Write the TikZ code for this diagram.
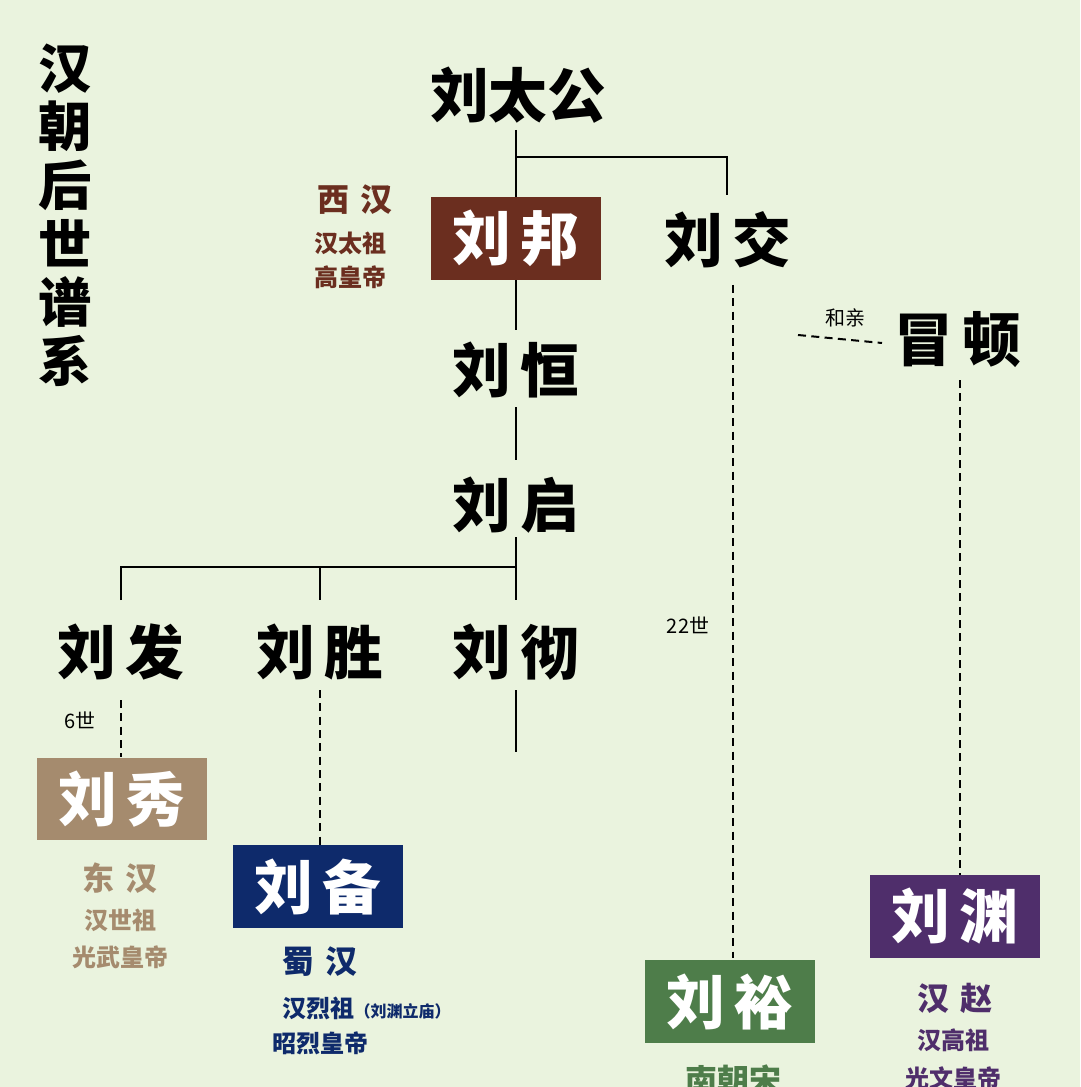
\documentclass[tikz,border=0pt]{standalone}
\usepackage{fontspec}
\newfontfamily\cjk{Noto Sans CJK SC}[BoldFont={Noto Sans CJK SC Black}]
\definecolor{bg}{HTML}{EAF3DE}
\definecolor{cbrown}{HTML}{6B2E1F}
\definecolor{ctan}{HTML}{A58B6E}
\definecolor{cnavy}{HTML}{0E2A6B}
\definecolor{cgreen}{HTML}{4E7D4A}
\definecolor{cpurp}{HTML}{4F2E6B}
\begin{document}
\begin{tikzpicture}[x=0.75pt,y=-0.75pt,
  nm/.style={font=\cjk\bfseries\fontsize{44}{48}\selectfont},
  bx/.style={minimum width=127.5pt,minimum height=62pt,inner sep=0pt,text=white,font=\cjk\bfseries\fontsize{44}{48}\selectfont},
  sub/.style={font=\cjk\bfseries\fontsize{18}{20}\selectfont},
  subb/.style={font=\cjk\bfseries\fontsize{24}{26}\selectfont},
  ln/.style={line width=1.5pt},
  dl/.style={line width=1.5pt,dash pattern=on 6pt off 4pt}]
\fill[bg] (0,0) rectangle (1080,1087);
\clip (0,0) rectangle (1080,1087);
\node[font=\cjk\bfseries\fontsize{40}{44}\selectfont,align=center] (title) at (65,215) {汉\\朝\\后\\世\\谱\\系};
\node[nm] (tg) at (518,95) {刘太公};
\node[bx,fill=cbrown] (bang) at (516,238.5) {刘\,邦};
\node[nm] (jiao) at (728,240) {刘\,交};
\node[nm] (heng) at (516,370) {刘\,恒};
\node[nm] (qi) at (516,505) {刘\,启};
\node[nm] (fa) at (121,652) {刘\,发};
\node[nm] (sheng) at (320,652) {刘\,胜};
\node[nm] (che) at (516,652) {刘\,彻};
\node[nm] (modu) at (958,340) {冒\,顿};
\node[bx,fill=ctan] (xiu) at (122,799) {刘\,秀};
\node[bx,fill=cnavy] (bei) at (318,886.5) {刘\,备};
\node[bx,fill=cgreen] (yu) at (730,1001.5) {刘\,裕};
\node[bx,fill=cpurp] (yuan) at (955,916.5) {刘\,渊};
% labels
\node[subb,text=cbrown] (l1) at (355,200) {西\,\,汉};
\node[sub,text=cbrown] (l2) at (350,243) {汉太祖};
\node[sub,text=cbrown] (l3) at (350,277) {高皇帝};
\node[subb,text=ctan] (l4) at (120,878) {东\,\,汉};
\node[sub,text=ctan] (l5) at (120,920) {汉世祖};
\node[sub,text=ctan] (l6) at (120,957) {光武皇帝};
\node[subb,text=cnavy] (l7) at (320,962) {蜀\,\,汉};
\node[sub,text=cnavy,anchor=west] (l8) at (278,1008) {汉烈祖\fontsize{12}{14}\selectfont（刘渊立庙）};
\node[sub,text=cnavy] (l9) at (320,1043) {昭烈皇帝};
\node[subb,text=cgreen] (l10) at (733,1080) {南朝宋};
\node[subb,text=cpurp] (l11) at (955,998) {汉\,\,赵};
\node[sub,text=cpurp] (l12) at (953,1040) {汉高祖};
\node[sub,text=cpurp] (l13) at (953,1078) {光文皇帝};
\node[font=\cjk\fontsize{15}{17}\selectfont] (g22) at (688,625) {22世};
\node[font=\cjk\fontsize{15}{17}\selectfont] (g6) at (80,720) {6世};
\node[font=\cjk\fontsize{15}{17}\selectfont] (hq) at (845,318) {和亲};
% lines
\coordinate (t1) at (516,157);
\coordinate (t2) at (727,157);
\draw[ln] (516,130) -- (bang.north);
\draw[ln] (t1) -- (t2) -- (727,195);
\draw[ln] (bang.south) -- (516,330);
\draw[ln] (516,407) -- (516,460);
\draw[ln] (516,537) -- (516,600);
\draw[ln] (121,600) -- (121,567) -- (516,567);
\draw[ln] (320,567) -- (320,600);
\draw[ln] (516,690) -- (516,752);
\draw[dl] (733,285) -- (733,958);
\draw[dl] (798,335) -- (882,343);
\draw[dl] (960,380) -- (yuan.north -| 960,0);
\draw[dl] (121,700) -- (xiu.north -| 121,0);
\draw[dl] (320,690) -- (bei.north -| 320,0);
\end{tikzpicture}
\end{document}
